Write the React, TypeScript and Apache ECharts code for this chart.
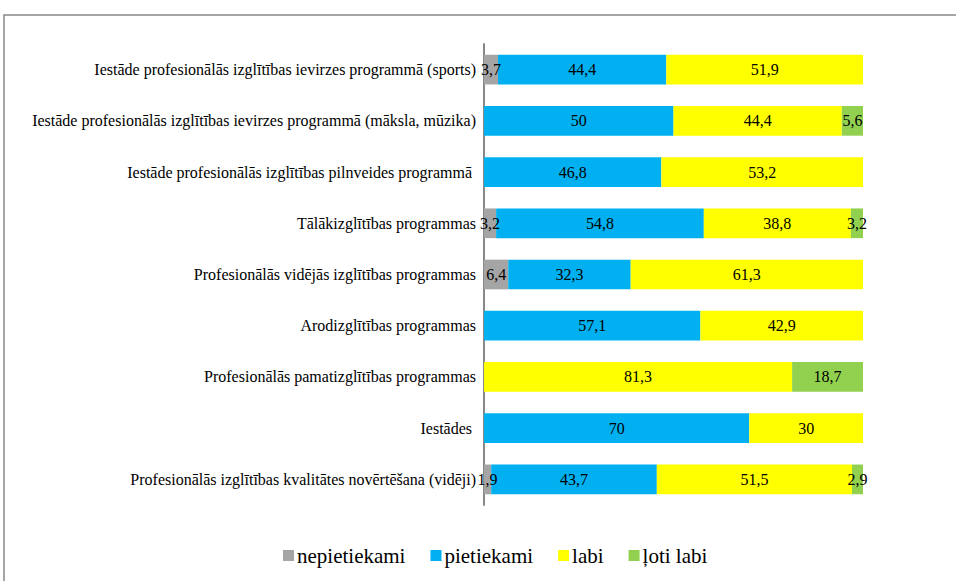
import React, { useEffect, useRef } from "react";
import * as echarts from "echarts";

const categories = [
  "Iestāde profesionālās izglītības ievirzes programmā (sports)",
  "Iestāde profesionālās izglītības ievirzes programmā (māksla, mūzika)",
  "Iestāde profesionālās izglītības pilnveides programmā ",
  "Tālākizglītības programmas",
  "Profesionālās vidējās izglītības programmas",
  "Arodizglītības programmas",
  "Profesionālās pamatizglītības programmas",
  "Iestādes ",
  "Profesionālās izglītības kvalitātes novērtēšana (vidēji)",
];

const seriesNames = ["nepietiekami", "pietiekami", "labi", "ļoti labi"];
const nepietiekami = [3.7, null, null, 3.2, 6.4, null, null, null, 1.9];
const pietiekami = [44.4, 50, 46.8, 54.8, 32.3, 57.1, null, 70, 43.7];
const labi = [51.9, 44.4, 53.2, 38.8, 61.3, 42.9, 81.3, 30, 51.5];
const lotiLabi = [null, 5.6, null, 3.2, null, null, 18.7, null, 2.9];
const colors = ["#A5A5A5", "#00B0F0", "#FFFF00", "#92D050"];

export default function App() {
  const ref = useRef<HTMLDivElement>(null);
  useEffect(() => {
    if (!ref.current) return;
    const chart = echarts.init(ref.current, null, { renderer: "svg" });
    const font = "Liberation Serif";
    const data = [nepietiekami, pietiekami, labi, lotiLabi];
    chart.setOption({
      animation: false,
      textStyle: { fontFamily: font },
      grid: { left: 484, right: 93, top: 44, bottom: 76, containLabel: false },
      xAxis: {
        type: "value",
        min: 0,
        max: 100,
        show: false,
      },
      yAxis: {
        type: "category",
        data: categories,
        inverse: true,
        axisLine: { show: true, lineStyle: { color: "#888888", width: 2 } },
        axisTick: { show: false },
        axisLabel: { color: "#000", fontSize: 16, fontFamily: font, margin: 8 },
      },
      legend: {
        data: seriesNames,
        left: 278,
        top: 540,
        itemWidth: 11,
        itemHeight: 11,
        itemGap: 25,
        icon: "rect",
        textStyle: { color: "#000", fontSize: 21, fontFamily: font, padding: [0, 0, 0, -2] },
      },
      graphic: [
        {
          type: "rect",
          shape: { x: 4, y: 15, width: 1200, height: 1000 },
          style: { fill: "none", stroke: "#888888", lineWidth: 1.5 },
          silent: true,
        },
      ],
      series: seriesNames.map((name, i) => ({
        name,
        type: "bar",
        stack: "total",
        data: data[i],
        barCategoryGap: "42%",
        itemStyle: { color: colors[i] },
        label: {
          show: true,
          position: "inside",
          color: "#000",
          fontSize: 16,
          fontFamily: font,
          formatter: (p: any) => String(p.value).replace(".", ","),
        },
      })),
    });
    return () => chart.dispose();
  }, []);
  return (
    <div
      ref={ref}
      style={{ position: "fixed", left: 0, top: 0, width: 956, height: 581, background: "#fff" }}
    />
  );
}
